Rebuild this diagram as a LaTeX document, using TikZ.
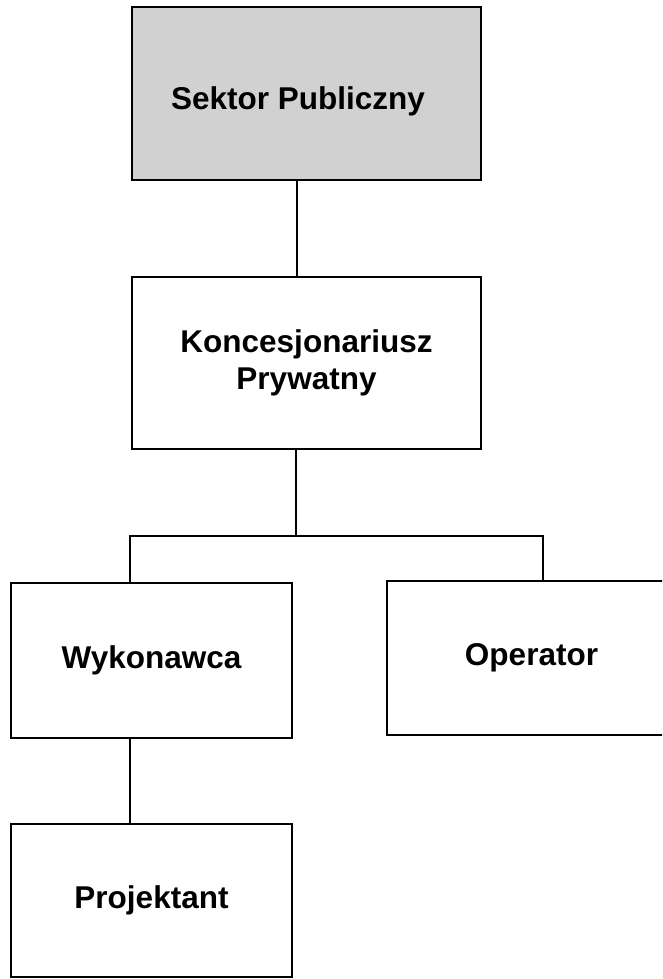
\documentclass[tikz,border=0pt]{standalone}
\usepackage{fontspec}
\setmainfont{Liberation Sans}
\definecolor{boxgray}{RGB}{209,209,209}
\begin{document}
\begin{tikzpicture}[x=1pt,y=-1pt,
  box/.style={draw=black,line width=1.8pt,rectangle,inner sep=0pt,fill=white},
  lbl/.style={font=\bfseries\fontsize{31.5}{37.5}\selectfont,align=center},
  conn/.style={line width=1.8pt}]
\useasboundingbox (0,0) rectangle (662,979);
\clip (0,0) rectangle (662,979);
% boxes
\node[box,fill=boxgray,minimum width=349pt,minimum height=173pt] (sektor) at (306.5,93.5) {};
\node[lbl,anchor=base] (sektortext) at (298,110) {Sektor Publiczny};
\node[box,lbl,minimum width=349pt,minimum height=172pt] (konc) at (306.5,363) {Koncesjonariusz\\Prywatny};
\node[box,lbl,minimum width=281pt,minimum height=155pt] (wyk) at (151.5,660.5) {Wykonawca};
\node[box,lbl,minimum width=289pt,minimum height=154pt] (oper) at (531.5,658) {Operator};
\node[box,lbl,minimum width=281pt,minimum height=153pt] (proj) at (151.5,900.5) {Projektant};
% helper coordinates
\coordinate (c1) at (297,0);
\coordinate (c2) at (296,0);
\coordinate (cl) at (130,0);
\coordinate (cr) at (543,0);
\coordinate (bus) at (0,536);
% connectors
\draw[conn] (sektor.south -| c1) -- (konc.north -| c1);
\draw[conn] (konc.south -| c2) -- (bus -| c2);
\draw[conn] (wyk.north -| cl) -- (bus -| cl) -- (bus -| cr) -- (oper.north -| cr);
\draw[conn] (wyk.south -| cl) -- (proj.north -| cl);
\end{tikzpicture}
\end{document}
